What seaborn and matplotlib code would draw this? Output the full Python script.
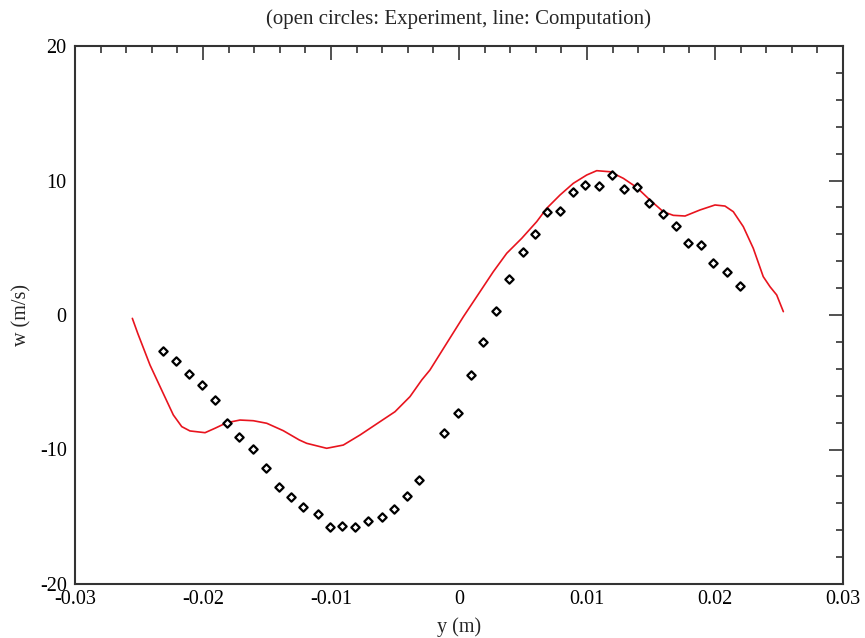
import matplotlib
matplotlib.use("Agg")
import matplotlib.pyplot as plt
import seaborn as sns
import pandas as pd
from matplotlib.ticker import MultipleLocator, FuncFormatter

# Experiment (open markers)
exp_y = [-0.02315, -0.02208, -0.0211, -0.0201, -0.0191, -0.01815, -0.01716, -0.0161,
         -0.0151, -0.0141, -0.01315, -0.01216, -0.01104, -0.01008, -0.00912, -0.0081,
         -0.00714, -0.00604, -0.00508, -0.00409, -0.0031, -0.00115, -0.00005, 0.00091,
         0.0019, 0.00289, 0.00388, 0.00497, 0.00594, 0.0069, 0.00789, 0.00888, 0.00987,
         0.01096, 0.01193, 0.01291, 0.01388, 0.01487, 0.01596, 0.01695, 0.01791, 0.01891,
         0.01987, 0.02096, 0.02195]
exp_w = [-2.68, -3.44, -4.36, -5.23, -6.34, -8.0, -9.05, -9.99, -11.4, -12.81, -13.55,
         -14.3, -14.77, -15.79, -15.69, -15.79, -15.34, -15.04, -14.4, -13.46, -12.24,
         -8.77, -7.29, -4.46, -2.03, 0.32, 2.65, 4.71, 6.05, 7.63, 7.73, 9.12, 9.69,
         9.59, 10.43, 9.39, 9.49, 8.35, 7.53, 6.59, 5.38, 5.18, 3.87, 3.2, 2.18]

# Computation (line)
comp_y = [-0.02552, -0.0251, -0.02414, -0.02323, -0.02232, -0.02166, -0.02102, -0.01984,
          -0.01906, -0.01815, -0.01711, -0.01607, -0.01502, -0.01373, -0.01248, -0.0119,
          -0.01034, -0.00904, -0.00773, -0.00617, -0.005, -0.00383, -0.00291, -0.00227,
          -0.00096, 0.00034, 0.00164, 0.00268, 0.00373, 0.0049, 0.00607, 0.00685, 0.00789,
          0.00893, 0.00998, 0.01076, 0.0118, 0.01284, 0.01388, 0.01492, 0.01596, 0.01674,
          0.01766, 0.01883, 0.02, 0.02078, 0.02143, 0.02221, 0.02299, 0.02377, 0.0243,
          0.02482, 0.02534]
comp_w = [-0.25, -1.36, -3.72, -5.58, -7.43, -8.30, -8.62, -8.75, -8.42, -8.01, -7.81,
          -7.86, -8.05, -8.60, -9.29, -9.54, -9.91, -9.67, -8.92, -7.93, -7.19, -6.07,
          -4.83, -4.09, -2.10, -0.13, 1.73, 3.22, 4.59, 5.70, 6.94, 7.93, 8.92, 9.79,
          10.41, 10.73, 10.65, 10.16, 9.49, 8.55, 7.68, 7.41, 7.36, 7.81, 8.18, 8.10,
          7.68, 6.57, 4.96, 2.85, 2.10, 1.49, 0.25]

title = "(open circles: Experiment, line: Computation)"
xlabel = "y (m)"
ylabel = "w (m/s)"

sns.set_style("white")
plt.rcParams['font.family'] = ['Liberation Serif', 'DejaVu Serif']

fig = plt.figure(figsize=(8.65, 6.38), dpi=100)
ax = fig.add_axes([75/865, 1-584/638, (843-75)/865, (584-46)/638])

df_exp = pd.DataFrame({"y": exp_y, "w": exp_w})
df_comp = pd.DataFrame({"y": comp_y, "w": comp_w})

sns.lineplot(data=df_comp, x="y", y="w", ax=ax, color="#e8141e", linewidth=1.2,
             sort=False, estimator=None)
sns.scatterplot(data=df_exp, x="y", y="w", ax=ax, marker="D", s=18,
                facecolors="white", edgecolor="black", linewidth=1.6, zorder=3)

ax.set_xlim(-0.03, 0.03)
ax.set_ylim(-20, 20)
ax.xaxis.set_major_locator(MultipleLocator(0.01))
ax.xaxis.set_minor_locator(MultipleLocator(0.002))
ax.yaxis.set_major_locator(MultipleLocator(10))
ax.yaxis.set_minor_locator(MultipleLocator(2))
ax.xaxis.set_major_formatter(FuncFormatter(
    lambda v, p: "0" if abs(v) < 1e-12 else "%g" % v))
ax.yaxis.set_major_formatter(FuncFormatter(lambda v, p: "%d" % round(v)))

ax.tick_params(which="both", direction="in", top=True, right=True, colors="#333333",
               labelcolor="black", labelsize=14.5, width=1.2)
ax.tick_params(which="major", length=10, pad=4)
ax.tick_params(which="minor", length=5)
ax.tick_params(axis="y", which="major", pad=6)
for s in ax.spines.values():
    s.set_color("#333333")
    s.set_linewidth(1.5)

ax.set_title(title, fontsize=15, pad=16)
ax.set_xlabel(xlabel, fontsize=14.5, labelpad=6)
ax.set_ylabel(ylabel, fontsize=14.5, labelpad=6)

fig.savefig("out.png", dpi=100)
